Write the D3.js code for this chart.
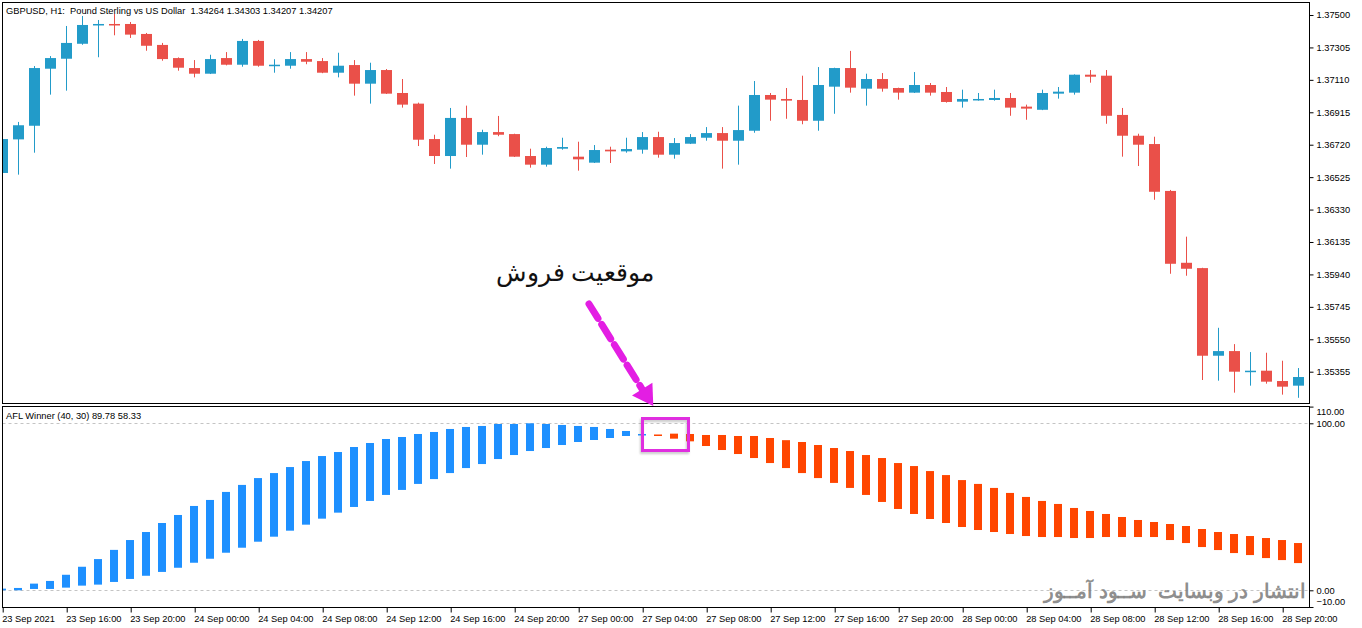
<!DOCTYPE html>
<html><head><meta charset="utf-8">
<script src="https://cdn.jsdelivr.net/npm/d3@7"></script>
<style>
html,body{margin:0;padding:0;background:#fff;}
svg{display:block;}
text{font-family:"Liberation Sans",Arial,sans-serif;white-space:pre;}
</style></head><body>
<svg id="c" width="1362" height="628"></svg>
<script>
// ---------- DATA ----------
const timeLabels = ["23 Sep 2021","23 Sep 16:00","23 Sep 20:00","24 Sep 00:00","24 Sep 04:00","24 Sep 08:00","24 Sep 12:00","24 Sep 16:00","24 Sep 20:00","27 Sep 00:00","27 Sep 04:00","27 Sep 08:00","27 Sep 12:00","27 Sep 16:00","27 Sep 20:00","28 Sep 00:00","28 Sep 04:00","28 Sep 08:00","28 Sep 12:00","28 Sep 16:00","28 Sep 20:00"];
const barsPerLabel = 4;

const open  = [1.36550,1.36752,1.36834,1.37177,1.37237,1.37327,1.37438,1.37446,1.37446,1.37386,1.37320,1.37241,1.37181,1.37147,1.37241,1.37201,1.37344,1.37197,1.37195,1.37235,1.37223,1.37153,1.37199,1.37087,1.37169,1.37031,1.36967,1.36754,1.36652,1.36881,1.36720,1.36796,1.36784,1.36652,1.36600,1.36696,1.36648,1.36612,1.36690,1.36680,1.36690,1.36766,1.36660,1.36726,1.36762,1.36790,1.36744,1.36804,1.37019,1.36995,1.36989,1.36864,1.37069,1.37181,1.37057,1.37115,1.37061,1.37033,1.37079,1.37037,1.36979,1.36989,1.36989,1.37001,1.36949,1.36930,1.37027,1.37033,1.37141,1.37135,1.36899,1.36774,1.36724,1.36442,1.36010,1.35978,1.35451,1.35479,1.35353,1.35361,1.35299,1.35271];
const high  = [1.36754,1.36857,1.37193,1.37253,1.37434,1.37494,1.37470,1.37506,1.37458,1.37392,1.37332,1.37245,1.37229,1.37261,1.37277,1.37356,1.37350,1.37234,1.37277,1.37277,1.37241,1.37273,1.37229,1.37213,1.37175,1.37115,1.36973,1.36780,1.36941,1.36955,1.36810,1.36893,1.36786,1.36696,1.36708,1.36762,1.36738,1.36718,1.36708,1.36762,1.36796,1.36798,1.36760,1.36784,1.36826,1.36826,1.36955,1.37103,1.37031,1.37061,1.37135,1.37187,1.37183,1.37284,1.37147,1.37151,1.37063,1.37157,1.37091,1.37067,1.37051,1.37031,1.37051,1.37031,1.36961,1.37051,1.37067,1.37143,1.37169,1.37169,1.36941,1.36786,1.36768,1.36448,1.36167,1.35980,1.35619,1.35521,1.35473,1.35469,1.35421,1.35377];
const low   = [1.36538,1.36540,1.36672,1.37021,1.37045,1.37321,1.37246,1.37378,1.37362,1.37285,1.37225,1.37165,1.37125,1.37145,1.37197,1.37189,1.37189,1.37153,1.37177,1.37204,1.37150,1.37125,1.37015,1.36967,1.37025,1.36943,1.36712,1.36604,1.36576,1.36646,1.36660,1.36771,1.36646,1.36582,1.36588,1.36690,1.36564,1.36610,1.36610,1.36672,1.36666,1.36642,1.36636,1.36724,1.36744,1.36576,1.36600,1.36792,1.36864,1.36876,1.36843,1.36804,1.36906,1.37033,1.36955,1.37039,1.36991,1.37031,1.37015,1.36973,1.36943,1.36985,1.36985,1.36894,1.36870,1.36928,1.36997,1.37021,1.37093,1.36846,1.36648,1.36592,1.36389,1.35944,1.35932,1.35305,1.35301,1.35229,1.35271,1.35283,1.35217,1.35198];
const close = [1.36754,1.36837,1.37181,1.37241,1.37332,1.37440,1.37446,1.37438,1.37382,1.37315,1.37235,1.37183,1.37147,1.37235,1.37201,1.37344,1.37195,1.37201,1.37235,1.37219,1.37153,1.37195,1.37087,1.37169,1.37027,1.36961,1.36750,1.36652,1.36881,1.36720,1.36796,1.36780,1.36648,1.36600,1.36700,1.36706,1.36632,1.36688,1.36680,1.36694,1.36766,1.36660,1.36730,1.36766,1.36790,1.36744,1.36808,1.37019,1.36991,1.36985,1.36864,1.37079,1.37181,1.37063,1.37115,1.37057,1.37033,1.37079,1.37033,1.36977,1.36995,1.36995,1.37001,1.36943,1.36937,1.37031,1.37039,1.37141,1.37129,1.36894,1.36774,1.36720,1.36437,1.36004,1.35974,1.35451,1.35479,1.35355,1.35361,1.35295,1.35265,1.35323];
const priceTicks = [1.37500,1.37305,1.37110,1.36915,1.36720,1.36525,1.36330,1.36135,1.35940,1.35745,1.35550,1.35355];

const aflTop    = [1.0,1.4,4.0,5.6,9.3,14.1,18.7,24.2,30.1,34.9,40.3,45.1,50.5,54.1,58.9,63.1,67.2,70.2,73.8,77.4,80.4,82.8,85.8,88.2,90.6,91.8,93.6,94.8,96.6,97.8,98.4,99.6,99.6,100.0,99.6,99.0,98.4,97.8,96.6,95.4,93.6,93.3,93.8,93.6,93.0,93.0,92.4,92.4,91.2,89.9,88.8,87.0,85.2,83.4,81.0,79.2,76.2,74.4,71.4,69.0,66.0,63.7,61.3,58.3,55.9,53.5,51.7,49.3,47.5,45.7,43.9,42.1,40.9,39.7,38.5,36.7,34.9,33.7,32.5,31.3,30.1,28.3];
const aflBottom = [0.0,0.0,0.8,0.8,1.6,2.8,3.4,5.0,6.8,8.7,11.0,13.5,16.5,18.9,22.5,25.5,29.1,32.1,35.7,39.3,42.9,46.5,49.9,53.5,57.1,60.1,63.7,66.6,70.2,73.2,75.6,78.6,81.0,83.4,85.2,87.0,88.8,90.0,91.2,92.4,93.0,92.7,90.8,89.2,86.4,84.0,81.6,79.2,76.2,73.2,70.2,67.2,64.3,61.3,57.1,52.9,48.7,45.7,42.7,40.3,37.9,36.1,34.9,33.7,32.5,31.9,31.9,31.3,31.3,31.9,31.9,31.9,31.9,30.1,28.3,25.9,24.1,22.3,21.1,19.3,18.1,16.3];
const aflSignal = [1,1,1,1,1,1,1,1,1,1,1,1,1,1,1,1,1,1,1,1,1,1,1,1,1,1,1,1,1,1,1,1,1,1,1,1,1,1,1,1,1,-1,-1,-1,-1,-1,-1,-1,-1,-1,-1,-1,-1,-1,-1,-1,-1,-1,-1,-1,-1,-1,-1,-1,-1,-1,-1,-1,-1,-1,-1,-1,-1,-1,-1,-1,-1,-1,-1,-1,-1,-1];
const aflTicks = [110,100,0,-10];
const aflLevels = [100,0];

const chartTitle = "GBPUSD, H1:  Pound Sterling vs US Dollar  1.34264 1.34303 1.34207 1.34207";
const aflTitle = "AFL Winner (40, 30) 89.78 58.33";
const noteText = "موقعیت فروش";
const watermark = "انتشار در وبسایت  ســود آمــوز";

// ---------- LAYOUT ----------
const L = 2.5, R = 1309.5;
const topY0 = 2.5, topY1 = 403.5;
const lowY0 = 406.5, lowY1 = 607.5;
const bullC = "#229bc9", bearC = "#ea5049";
const aflUpC = "#1e90ff", aflDnC = "#ff4500";
const fs = 9.3;

const svg = d3.select("#c");
const x = d3.scaleLinear().domain([0, 81]).range([2.7, 1298.7]);
const yP = d3.scaleLinear().domain([1.35355, 1.375]).range([371.7, 15]);
const yA = d3.scaleLinear().domain([0, 100]).range([590.3, 423.3]);

const defs = svg.append("defs");
defs.append("clipPath").attr("id","cpTop").append("rect")
  .attr("x",L+0.5).attr("y",topY0+0.5).attr("width",R-L-1).attr("height",topY1-topY0-1);
defs.append("clipPath").attr("id","cpLow").append("rect")
  .attr("x",L+0.5).attr("y",lowY0+0.5).attr("width",R-L-1).attr("height",lowY1-lowY0-1);
const f = defs.append("filter").attr("id","shadow").attr("x","-20%").attr("y","-20%").attr("width","140%").attr("height","160%");
f.append("feDropShadow").attr("dx",-1).attr("dy",2).attr("stdDeviation",1.2).attr("flood-color","#888").attr("flood-opacity",0.45);

// ---------- TOP PANEL ----------
const gTop = svg.append("g").attr("clip-path","url(#cpTop)");
const idx = d3.range(open.length);
const cg = gTop.selectAll("g.c").data(idx).join("g");
cg.append("line")
  .attr("x1", i => Math.floor(x(i)) + 0.5).attr("x2", i => Math.floor(x(i)) + 0.5)
  .attr("y1", i => yP(high[i])).attr("y2", i => yP(low[i]))
  .attr("stroke", i => close[i] >= open[i] ? bullC : bearC).attr("stroke-width", 1);
cg.append("rect")
  .attr("x", i => Math.round(x(i) - 5.3)).attr("width", 11)
  .attr("y", i => Math.min(yP(open[i]), yP(close[i])))
  .attr("height", i => Math.max(1.5, Math.abs(yP(open[i]) - yP(close[i]))))
  .attr("fill", i => close[i] >= open[i] ? bullC : bearC);

svg.append("rect").attr("x",L).attr("y",topY0).attr("width",R-L).attr("height",topY1-topY0)
  .attr("fill","none").attr("stroke","#000").attr("stroke-width",1);

const axP = svg.append("g").attr("transform",`translate(${R},0)`)
  .call(d3.axisRight(yP).tickValues(priceTicks).tickFormat(d3.format(".5f")).tickSize(4).tickPadding(3));
axP.select(".domain").remove();
axP.selectAll("text").attr("font-size",fs).attr("font-family","Liberation Sans, Arial, sans-serif").attr("fill","#000");
axP.selectAll("line").attr("stroke","#000");

svg.append("text").attr("x",6).attr("y",13.5).attr("font-size",fs).attr("fill","#000").text(chartTitle);

// ---------- LOWER PANEL ----------
const gLow = svg.append("g").attr("clip-path","url(#cpLow)");
gLow.selectAll("line.lvl").data(aflLevels).join("line")
  .attr("x1",L).attr("x2",R).attr("y1",d=>Math.round(yA(d))+0.5).attr("y2",d=>Math.round(yA(d))+0.5)
  .attr("stroke","#c4c4c4").attr("stroke-dasharray","3,3");

gLow.selectAll("rect.afl").data(idx).join("rect")
  .attr("x", i => Math.floor(x(i)) - 4).attr("width", 8)
  .attr("y", i => yA(aflTop[i]))
  .attr("height", i => Math.max(1.5, yA(aflBottom[i]) - yA(aflTop[i])))
  .attr("fill", i => aflSignal[i] > 0 ? aflUpC : aflDnC);

svg.append("rect").attr("x",L).attr("y",lowY0).attr("width",R-L).attr("height",lowY1-lowY0)
  .attr("fill","none").attr("stroke","#000").attr("stroke-width",1);

const axA = svg.append("g").attr("transform",`translate(${R},0)`)
  .call(d3.axisRight(yA).tickValues(aflTicks).tickFormat(d3.format(".2f")).tickSize(4).tickPadding(3));
axA.select(".domain").remove();
axA.selectAll("text").attr("font-size",fs).attr("font-family","Liberation Sans, Arial, sans-serif").attr("fill","#000")
  .attr("dy", d => d === 110 ? "0.9em" : (d === -10 ? "-0.25em" : "0.32em"));
axA.selectAll("line").attr("stroke","#000");

svg.append("text").attr("x",6).attr("y",419).attr("font-size",fs).attr("fill","#000").text(aflTitle);

// ---------- TIME AXIS ----------
const axT = svg.append("g").attr("transform",`translate(0,${lowY1})`)
  .call(d3.axisBottom(x).tickValues(timeLabels.map((d,k)=>k*barsPerLabel))
    .tickFormat((d,k)=>timeLabels[k]).tickSize(5).tickPadding(3));
axT.select(".domain").remove();
axT.selectAll("text").attr("font-size",fs).attr("font-family","Liberation Sans, Arial, sans-serif")
  .attr("fill","#000").attr("text-anchor","start").attr("dx",-1);
axT.selectAll("line").attr("stroke","#000");

// ---------- ANNOTATIONS ----------
svg.append("text").attr("x",575).attr("y",281).attr("font-size",25)
  .attr("font-family","DejaVu Sans, sans-serif").attr("text-anchor","middle")
  .attr("direction","rtl").attr("fill","#111").text(noteText);

const mag = "#e31ee3";
svg.append("line").attr("x1",589).attr("y1",304).attr("x2",642).attr("y2",389)
  .attr("stroke",mag).attr("stroke-width",7).attr("stroke-dasharray","17,7").attr("stroke-linecap","round");
svg.append("path").attr("d","M632,395.5 L652.4,382.7 L653.3,406 Z").attr("fill",mag);

svg.append("rect").attr("x",642.5).attr("y",418.5).attr("width",46).attr("height",32)
  .attr("fill","none").attr("stroke","#e02ee0").attr("stroke-width",3).attr("filter","url(#shadow)");

svg.append("text").attr("x",1175).attr("y",598).attr("font-size",19.5).attr("font-weight","bold")
  .attr("font-family","DejaVu Sans, sans-serif").attr("text-anchor","middle")
  .attr("direction","rtl").attr("fill","#7f7f7f").attr("fill-opacity",0.9).text(watermark);
</script>
</body></html>
